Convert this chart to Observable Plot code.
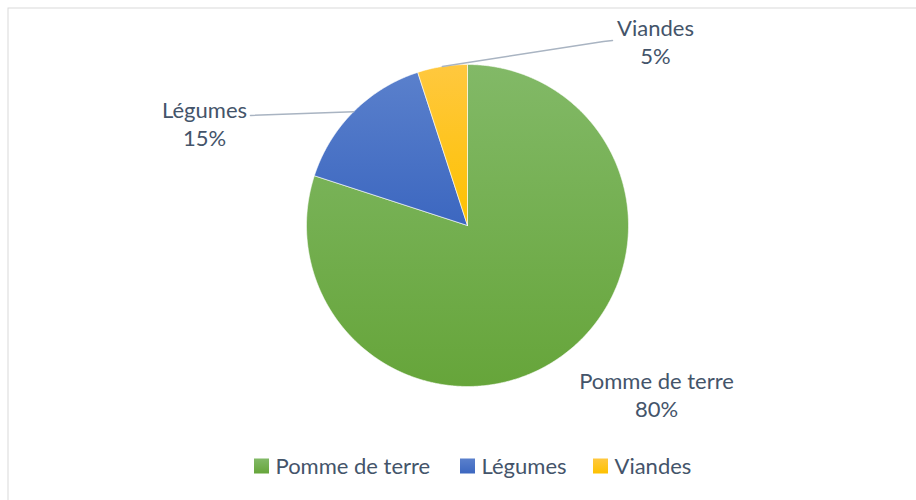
<!DOCTYPE html>
<html><head><meta charset="utf-8">
<script src="https://cdn.jsdelivr.net/npm/d3@7"></script>
<script src="https://cdn.jsdelivr.net/npm/@observablehq/plot@0.6"></script>
<style>body{margin:0;background:#fff}</style>
</head><body><div id="chart"></div>
<script>
// ---- data ----
const categories = ["Pomme de terre", "Légumes", "Viandes"];
const values = [80, 15, 5];
const percentLabels = ["80%", "15%", "5%"];

// ---- styles ----
const gradTop = ["#82b967", "#5a80cc", "#ffc83f"];
const gradBottom = ["#66a53a", "#3c67c0", "#fdc100"];
const textColor = "#44546a";
const font = "Lato";
const fs = 22;

// ---- layout (pixels) ----
const W = 916, H = 500, cx = 467, cy = 225, R = 161;
const px = x => (x - cx) / R, py = y => (cy - y) / R;
const labelPos = [[656, 381], [204, 110], [655, 28]];       // centre of first line
const leaderEnd = [null, [[250, 115]], [[603, 41], [612, 40]]];
const legendSwatchX = [254, 460, 593];
const legendY = 466, sw = 15;

// ---- pie geometry from values ----
const arcs = d3.pie().sort(null).value(d => d)(values);
const slicePts = [];
arcs.forEach((a, i) => {
  slicePts.push({x: 0, y: 0, k: i});
  const n = Math.max(8, Math.ceil((a.endAngle - a.startAngle) / 0.005));
  for (let j = 0; j <= n; j++) {
    const t = a.startAngle + (a.endAngle - a.startAngle) * j / n;
    slicePts.push({x: Math.sin(t), y: Math.cos(t), k: i});
  }
  slicePts.push({x: 0, y: 0, k: i});
});

const leaders = [];
arcs.forEach((a, i) => {
  if (!leaderEnd[i]) return;
  const m = (a.startAngle + a.endAngle) / 2;
  leaders.push({x: Math.sin(m), y: Math.cos(m), k: i});
  leaderEnd[i].forEach(([x, y]) => leaders.push({x: px(x), y: py(y), k: i}));
});

const labels = [];
categories.forEach((c, i) => {
  labels.push({x: px(labelPos[i][0]), y: py(labelPos[i][1]), t: c});
  labels.push({x: px(labelPos[i][0]), y: py(labelPos[i][1] + 28.5), t: percentLabels[i]});
});

const legend = categories.map((c, i) => ({
  x1: px(legendSwatchX[i]), x2: px(legendSwatchX[i] + sw),
  y1: py(legendY - sw / 2), y2: py(legendY + sw / 2),
  tx: px(legendSwatchX[i] + sw + 6), ty: py(legendY), t: c, k: i
}));

function defs() {
  const d = d3.create("svg:defs");
  categories.forEach((c, i) => {
    const g = d.append("linearGradient").attr("id", "g" + i)
      .attr("x1", 0).attr("y1", 0).attr("x2", 0).attr("y2", 1);
    g.append("stop").attr("offset", "0%").attr("stop-color", gradTop[i]);
    g.append("stop").attr("offset", "100%").attr("stop-color", gradBottom[i]);
  });
  return d.node();
}

const chart = Plot.plot({
  width: W, height: H, margin: 0,
  x: {domain: [px(0), px(W)], range: [0, W], axis: null},
  y: {domain: [py(H), py(0)], range: [H, 0], axis: null},
  color: {type: "identity"},
  style: {fontFamily: font, background: "#fff"},
  marks: [
    defs,
    Plot.frame({stroke: "#d9d9d9", insetLeft: 7.5, insetTop: 7.5, insetRight: -5, insetBottom: -5}),
    Plot.line(slicePts, {x: "x", y: "y", z: "k", fill: d => "url(#g" + d.k + ")", stroke: "#fff", strokeWidth: 0.6, strokeLinejoin: "round", curve: "linear"}),
    Plot.line(leaders, {x: "x", y: "y", z: "k", stroke: "#a9b4c2", strokeWidth: 1.5, curve: "linear"}),
    Plot.text(labels, {x: "x", y: "y", text: "t", fill: textColor, fontSize: fs, textAnchor: "middle"}),
    Plot.rect(legend, {x1: "x1", x2: "x2", y1: "y1", y2: "y2", fill: d => "url(#g" + d.k + ")"}),
    Plot.text(legend, {x: "tx", y: "ty", text: "t", fill: textColor, fontSize: fs, textAnchor: "start"})
  ]
});
document.getElementById("chart").append(chart);
</script>
</body></html>
